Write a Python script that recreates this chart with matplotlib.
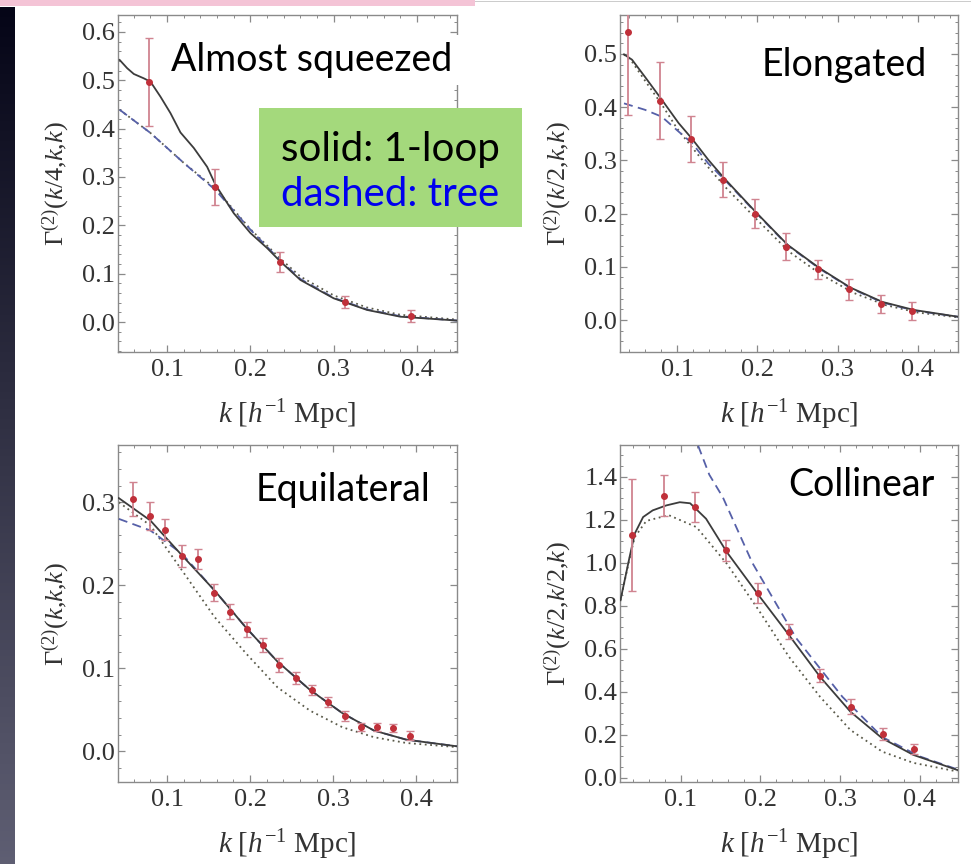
import numpy as np
import matplotlib
matplotlib.use("Agg")
import matplotlib.pyplot as plt
from matplotlib.patches import Rectangle
from matplotlib.ticker import MultipleLocator, AutoMinorLocator

plt.rcParams['font.family'] = ['Liberation Serif', 'DejaVu Serif']
plt.rcParams['mathtext.fontset'] = 'custom'
plt.rcParams['mathtext.rm'] = 'Liberation Serif'
plt.rcParams['mathtext.it'] = 'Liberation Serif:italic'

# ---- Almost squeezed: Gamma(k/4,k,k)
sq_k = [0.0785, 0.157, 0.236, 0.314, 0.393]
sq_val = [0.497, 0.279, 0.124, 0.041, 0.012]
sq_err = [0.091, 0.038, 0.021, 0.013, 0.012]
sq_loop_k = [0.043, 0.052, 0.060, 0.072, 0.080, 0.092, 0.104, 0.116, 0.132, 0.148, 0.158,
             0.180, 0.200, 0.220, 0.236, 0.260, 0.300, 0.340, 0.380, 0.448]
sq_loop = [0.542, 0.525, 0.513, 0.504, 0.497, 0.466, 0.432, 0.392, 0.360, 0.321, 0.284,
           0.225, 0.184, 0.153, 0.125, 0.087, 0.049, 0.025, 0.011, 0.003]
sq_tree_k = [0.043, 0.080, 0.120, 0.158, 0.200, 0.236, 0.260, 0.300, 0.340, 0.380, 0.448]
sq_tree = [0.439, 0.391, 0.329, 0.273, 0.191, 0.127, 0.089, 0.050, 0.026, 0.012, 0.003]
sq_dot = [0.439, 0.391, 0.329, 0.276, 0.192, 0.131, 0.094, 0.055, 0.030, 0.015, 0.005]

# ---- Elongated: Gamma(k/2,k,k)
el_k = [0.0393, 0.0786, 0.118, 0.157, 0.197, 0.236, 0.275, 0.314, 0.354, 0.393]
el_val = [0.541, 0.412, 0.340, 0.264, 0.200, 0.138, 0.095, 0.058, 0.031, 0.017]
el_err = [0.156, 0.072, 0.043, 0.032, 0.027, 0.025, 0.018, 0.020, 0.017, 0.016]
el_loop_k = [0.034, 0.044, 0.060, 0.081, 0.102, 0.119, 0.139, 0.159, 0.198, 0.238,
             0.278, 0.316, 0.356, 0.395, 0.451]
el_loop = [0.499, 0.489, 0.457, 0.414, 0.370, 0.340, 0.301, 0.266, 0.203, 0.141,
           0.097, 0.061, 0.034, 0.019, 0.006]
el_tree_k = [0.034, 0.060, 0.081, 0.102, 0.119, 0.139, 0.159, 0.198, 0.238, 0.278,
             0.316, 0.356, 0.395, 0.451]
el_tree = [0.407, 0.395, 0.382, 0.354, 0.332, 0.294, 0.264, 0.202, 0.140, 0.096,
           0.060, 0.033, 0.018, 0.006]
el_dot_k = [0.034, 0.044, 0.060, 0.081, 0.100, 0.120, 0.140, 0.160, 0.200, 0.240,
            0.280, 0.320, 0.360, 0.400, 0.451]
el_dot = [0.499, 0.485, 0.450, 0.405, 0.360, 0.322, 0.285, 0.250, 0.188, 0.128,
          0.085, 0.051, 0.028, 0.014, 0.005]

# ---- Equilateral: Gamma(k,k,k)
eq_k = [0.059, 0.079, 0.098, 0.118, 0.137, 0.157, 0.176, 0.196, 0.216,
        0.235, 0.255, 0.274, 0.294, 0.314, 0.333, 0.353, 0.372, 0.392]
eq_val = [0.304, 0.283, 0.267, 0.235, 0.232, 0.191, 0.168, 0.147, 0.128,
          0.104, 0.088, 0.074, 0.059, 0.043, 0.029, 0.029, 0.028, 0.019]
eq_err = [0.021, 0.017, 0.013, 0.013, 0.012, 0.010, 0.009, 0.009, 0.008,
          0.008, 0.007, 0.006, 0.006, 0.006, 0.005, 0.005, 0.005, 0.005]
eq_line_k = [0.042, 0.080, 0.118, 0.157, 0.195, 0.233, 0.272, 0.311, 0.349, 0.388, 0.449]
eq_loop = [0.305, 0.278, 0.236, 0.194, 0.149, 0.108, 0.074, 0.046, 0.025, 0.014, 0.006]
eq_tree = [0.280, 0.266, 0.238, 0.194, 0.149, 0.108, 0.074, 0.046, 0.025, 0.014, 0.006]
eq_dot = [0.300, 0.272, 0.218, 0.162, 0.118, 0.077, 0.049, 0.029, 0.017, 0.010, 0.005]

# ---- Collinear: Gamma(k/2,k/2,k)
co_k = [0.0393, 0.0786, 0.118, 0.157, 0.197, 0.236, 0.275, 0.314, 0.354, 0.393]
co_val = [1.131, 1.313, 1.259, 1.058, 0.860, 0.679, 0.475, 0.331, 0.204, 0.135]
co_err = [0.260, 0.094, 0.070, 0.050, 0.045, 0.035, 0.030, 0.035, 0.030, 0.025]
co_loop_k = [0.0246, 0.036, 0.0425, 0.053, 0.065, 0.082, 0.099, 0.112, 0.132, 0.158,
             0.198, 0.236, 0.275, 0.313, 0.353, 0.392, 0.447]
co_loop = [0.826, 1.027, 1.136, 1.213, 1.244, 1.267, 1.282, 1.277, 1.205, 1.050,
           0.849, 0.664, 0.470, 0.308, 0.184, 0.107, 0.037]
co_tree_k = [0.100, 0.122, 0.136, 0.153, 0.190, 0.245, 0.303, 0.353, 0.400, 0.447]
co_tree = [1.80, 1.545, 1.41, 1.305, 1.00, 0.65, 0.377, 0.190, 0.100, 0.040]
co_dot_k = [0.0246, 0.036, 0.0425, 0.057, 0.085, 0.120, 0.158, 0.198, 0.236, 0.275,
            0.313, 0.353, 0.392, 0.447]
co_dot = [0.826, 1.020, 1.120, 1.195, 1.222, 1.166, 0.996, 0.780, 0.563, 0.377,
          0.223, 0.122, 0.070, 0.030]

W, H = 971, 864
fig = plt.figure(figsize=(W / 100, H / 100), dpi=100)
fig.patch.set_facecolor('white')


def px_axes(x0, y0, x1, y1):
    # axes rectangle given in pixel coords (top-left origin)
    return fig.add_axes([x0 / W, 1 - y1 / H, (x1 - x0) / W, (y1 - y0) / H])


def panel(ax, dk, dv, de, lines, xlim, ylim, ymajor, yminor, ylabel, title, tpos):
    loop_k, loop_v, tree_k, tree_v, dot_k, dot_v = lines
    ax.plot(dot_k, dot_v, color='#5a5a4a', lw=1.3, ls=(0, (1, 2)), zorder=2)
    ax.plot(tree_k, tree_v, color='#5660a8', lw=1.3, ls=(0, (5, 3)), zorder=3)
    ax.plot(loop_k, loop_v, color='#3c3c3c', lw=1.3, zorder=4)
    ax.errorbar(dk, dv, yerr=de, fmt='o', ms=4, color='#c0303a', ecolor='#d08490',
                elinewidth=1.3, capsize=3, capthick=1.0, zorder=5)
    ax.set_xlim(xlim)
    ax.set_ylim(ylim)
    ax.xaxis.set_major_locator(MultipleLocator(0.1))
    ax.xaxis.set_minor_locator(AutoMinorLocator(5))
    ax.yaxis.set_major_locator(MultipleLocator(ymajor))
    ax.yaxis.set_minor_locator(AutoMinorLocator(yminor))
    ax.tick_params(which='both', direction='in', top=True, right=True, color='#8a8a8a',
                   labelcolor='#333333', labelsize=19)
    ax.tick_params(which='major', length=5, width=0.9)
    ax.tick_params(which='minor', length=2.5, width=0.7)
    ax.tick_params(axis='x', pad=5)
    ax.tick_params(axis='y', pad=2)
    for s in ax.spines.values():
        s.set_color('#8a8a8a')
        s.set_linewidth(1.0)
    ax.set_xlabel(r'$k\ [h^{-1}\ \mathrm{Mpc}]$', fontsize=21, color='#333333')
    ax.set_ylabel(ylabel, fontsize=19, color='#333333')
    ax.xaxis.set_label_coords(0.5, -0.135)
    ax.yaxis.set_label_coords(-0.135, 0.5)
    ax.text(tpos[0], tpos[1], title, transform=ax.transAxes, ha='right', va='center',
            fontsize=27, family='Lato', color='black', zorder=10,
            bbox=dict(facecolor='white', edgecolor='none', pad=5), clip_on=False)


ax1 = px_axes(118, 15, 457, 352)
panel(ax1, sq_k, sq_val, sq_err, (sq_loop_k, sq_loop, sq_tree_k, sq_tree, sq_tree_k, sq_dot),
      (0.041, 0.448), (-0.062, 0.635), 0.1, 5, r'$\Gamma^{(2)}(k/4{,}k{,}k)$',
      'Almost squeezed', (0.985, 0.866))

ax2 = px_axes(620, 15, 958, 352)
panel(ax2, el_k, el_val, el_err, (el_loop_k, el_loop, el_tree_k, el_tree, el_dot_k, el_dot),
      (0.029, 0.45), (-0.060, 0.573), 0.1, 5, r'$\Gamma^{(2)}(k/2{,}k{,}k)$',
      'Elongated', (0.908, 0.852))

ax3 = px_axes(118, 445, 457, 782)
panel(ax3, eq_k, eq_val, eq_err, (eq_line_k, eq_loop, eq_line_k, eq_tree, eq_line_k, eq_dot),
      (0.041, 0.449), (-0.037, 0.369), 0.1, 5, r'$\Gamma^{(2)}(k{,}k{,}k)$',
      'Equilateral', (0.920, 0.866))

ax4 = px_axes(620, 445, 958, 782)
panel(ax4, co_k, co_val, co_err, (co_loop_k, co_loop, co_tree_k, co_tree, co_dot_k, co_dot),
      (0.024, 0.448), (-0.019, 1.548), 0.2, 4, r'$\Gamma^{(2)}(k/2{,}k/2{,}k)$',
      'Collinear', (0.932, 0.881))

# slide decorations: dark strip on the left, pink bar on top
strip = fig.add_axes([0, 0, 14 / W, 1 - 7 / H])
grad = np.linspace(0, 1, 256).reshape(-1, 1)
top_c = np.array([0.02, 0.02, 0.09])
bot_c = np.array([0.37, 0.37, 0.45])
strip.imshow(top_c + grad[:, :, None] * (bot_c - top_c), aspect='auto')
strip.axis('off')

fig.patches.append(Rectangle((0, 1 - 6 / H), 475 / W, 6 / H, transform=fig.transFigure,
                             facecolor='#f4c4d6', edgecolor='none', zorder=20))
fig.patches.append(Rectangle((475 / W, 1 - 2 / H), 1 - 475 / W, 1 / H, transform=fig.transFigure,
                             facecolor='#cccccc', edgecolor='none', zorder=20))

# legend box
fig.patches.append(Rectangle((259 / W, 1 - 227 / H), 263 / W, 119 / H, transform=fig.transFigure,
                             facecolor='#a4d97c', edgecolor='none', zorder=20))
fig.text(390 / W, 1 - 150 / H, 'solid: 1-loop', ha='center', va='center', fontsize=29,
         family='Lato', color='black', zorder=21)
fig.text(390 / W, 1 - 194 / H, 'dashed: tree', ha='center', va='center', fontsize=29,
         family='Lato', color='#0000ee', zorder=21)

fig.savefig('out.png', dpi=100)
